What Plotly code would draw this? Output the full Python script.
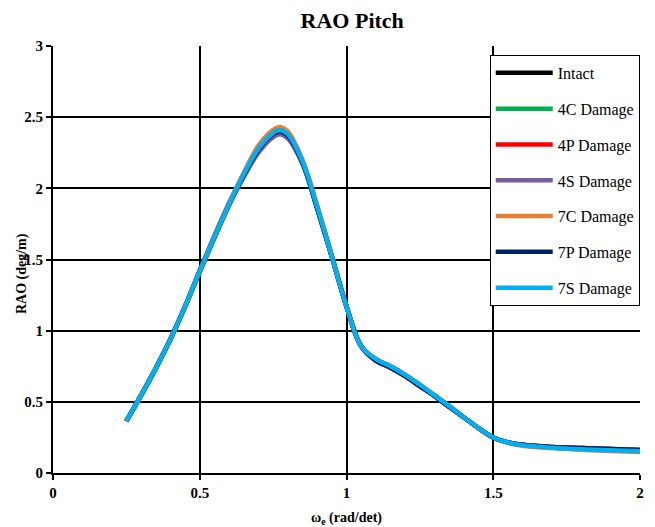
import plotly.graph_objects as go

omega = [0.25, 0.3, 0.35, 0.4, 0.45, 0.5, 0.55, 0.6, 0.65, 0.7, 0.75, 0.775, 0.8, 0.85, 0.9, 0.95,
         1.0, 1.05, 1.1, 1.15, 1.2, 1.25, 1.3, 1.35, 1.4, 1.45, 1.5, 1.55, 1.6, 1.7, 1.8, 1.9, 2.0]

intact = [0.365, 0.545, 0.735, 0.94, 1.17, 1.42, 1.66, 1.89, 2.09, 2.27, 2.38, 2.40, 2.37, 2.18, 1.86, 1.52,
          1.17, 0.89, 0.79, 0.74, 0.68, 0.61, 0.54, 0.465, 0.39, 0.315, 0.25, 0.215, 0.198, 0.183, 0.175, 0.168, 0.162]
dmg_4c = [0.365, 0.545, 0.735, 0.94, 1.17, 1.42, 1.66, 1.89, 2.10, 2.28, 2.39, 2.41, 2.38, 2.19, 1.87, 1.52,
          1.17, 0.89, 0.80, 0.75, 0.69, 0.62, 0.545, 0.47, 0.39, 0.315, 0.25, 0.215, 0.196, 0.18, 0.17, 0.163, 0.157]
dmg_4p = [0.365, 0.545, 0.735, 0.94, 1.17, 1.42, 1.66, 1.89, 2.10, 2.28, 2.39, 2.41, 2.38, 2.19, 1.87, 1.52,
          1.17, 0.89, 0.80, 0.75, 0.69, 0.62, 0.545, 0.47, 0.39, 0.315, 0.25, 0.215, 0.196, 0.18, 0.17, 0.163, 0.157]
dmg_4s = [0.365, 0.545, 0.735, 0.94, 1.17, 1.41, 1.65, 1.88, 2.08, 2.25, 2.36, 2.38, 2.35, 2.17, 1.86, 1.52,
          1.17, 0.89, 0.79, 0.74, 0.68, 0.61, 0.54, 0.465, 0.39, 0.315, 0.25, 0.215, 0.198, 0.183, 0.175, 0.168, 0.162]
dmg_7c = [0.365, 0.545, 0.735, 0.94, 1.17, 1.42, 1.67, 1.90, 2.11, 2.30, 2.41, 2.43, 2.40, 2.20, 1.88, 1.53,
          1.17, 0.89, 0.80, 0.75, 0.69, 0.62, 0.545, 0.47, 0.39, 0.315, 0.25, 0.212, 0.192, 0.175, 0.163, 0.155, 0.148]
dmg_7p = [0.365, 0.545, 0.735, 0.94, 1.17, 1.42, 1.66, 1.89, 2.09, 2.27, 2.38, 2.40, 2.37, 2.18, 1.86, 1.52,
          1.17, 0.89, 0.79, 0.74, 0.68, 0.61, 0.54, 0.465, 0.39, 0.315, 0.25, 0.215, 0.198, 0.183, 0.175, 0.168, 0.162]
dmg_7s = [0.365, 0.545, 0.735, 0.94, 1.17, 1.42, 1.66, 1.89, 2.10, 2.28, 2.39, 2.41, 2.38, 2.19, 1.87, 1.52,
          1.17, 0.89, 0.80, 0.75, 0.69, 0.62, 0.545, 0.47, 0.39, 0.315, 0.25, 0.214, 0.195, 0.178, 0.167, 0.16, 0.153]

series_names = ["Intact", "4C Damage", "4P Damage", "4S Damage", "7C Damage", "7P Damage", "7S Damage"]
series_values = [intact, dmg_4c, dmg_4p, dmg_4s, dmg_7c, dmg_7p, dmg_7s]
series_colors = ["#000000", "#00b050", "#ff0000", "#7a5c9e", "#ed7d31", "#002060", "#00b0f0"]

x_ticks = [0, 0.5, 1, 1.5, 2]
y_ticks = [0, 0.5, 1, 1.5, 2, 2.5, 3]

serif = "Liberation Serif, Times New Roman, serif"

fig = go.Figure()
for name, vals, col in zip(series_names, series_values, series_colors):
    fig.add_trace(go.Scatter(
        x=omega, y=vals, name=name, mode="lines", legendgroup=name,
        line=dict(color=col, width=4.5, shape="spline", smoothing=1.0),
    ))

# page body adds an 8px offset, so the figure is sized to fill the rest of the window
fig.update_layout(
    width=647, height=519,
    margin=dict(l=45, r=15, t=38, b=54),
    paper_bgcolor="white", plot_bgcolor="white",
    title=dict(text="<b>RAO Pitch</b>", x=0.532, xanchor="center", y=0.977, yanchor="middle",
               font=dict(family=serif, size=22, color="black")),
    font=dict(family=serif, color="black"),
    showlegend=True,
    legend=dict(x=0.744, y=0.979, xanchor="left", yanchor="top",
                bgcolor="white", bordercolor="black", borderwidth=1,
                font=dict(family=serif, size=16, color="black"),
                tracegroupgap=12, itemwidth=57),
    xaxis=dict(range=[0, 2], tickvals=x_ticks, ticktext=["<b>%s</b>" % v for v in x_ticks],
               showgrid=True, gridcolor="black", gridwidth=2,
               showline=True, linecolor="black", linewidth=2,
               ticks="outside", ticklen=5, tickwidth=2, tickcolor="black",
               tickfont=dict(family=serif, size=15, color="black"),
               zeroline=False, automargin=False,
               title=dict(text="<b>ω<sub>e</sub> (rad/det)</b>", standoff=14,
                          font=dict(family=serif, size=14, color="black"))),
    yaxis=dict(range=[0, 3], tickvals=y_ticks, ticktext=["<b>%s</b>" % v for v in y_ticks],
               showgrid=True, gridcolor="black", gridwidth=2,
               showline=True, linecolor="black", linewidth=2,
               ticks="outside", ticklen=5, tickwidth=2, tickcolor="black",
               tickfont=dict(family=serif, size=15, color="black"),
               zeroline=False, automargin=False),
)

fig.add_annotation(text="<b>RAO (deg/m)</b>", textangle=-90, xref="paper", yref="paper",
                   x=-0.053, y=0.468, xanchor="center", yanchor="middle", showarrow=False,
                   font=dict(family=serif, size=14, color="black"))

fig.write_html("out.html")
